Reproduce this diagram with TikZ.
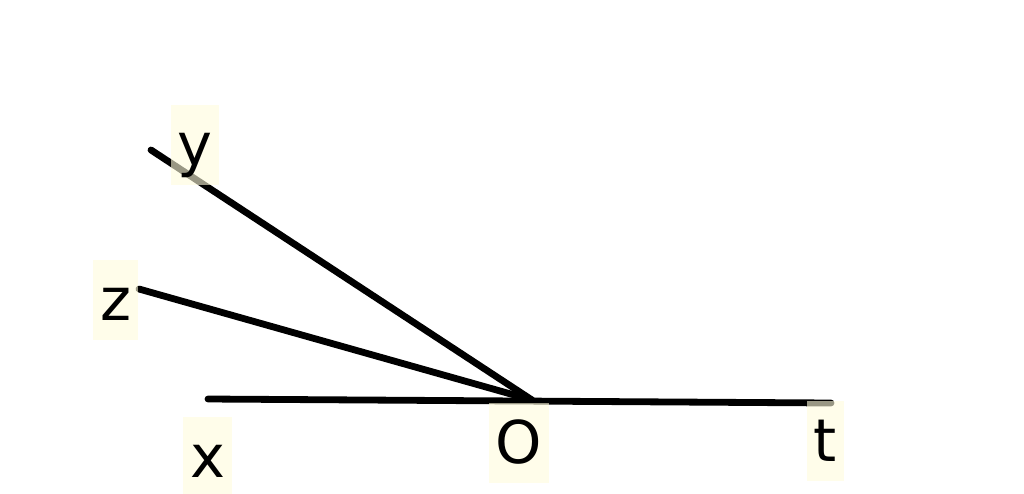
\documentclass[tikz,border=0pt]{standalone}
\usepackage{fontspec}
\setmainfont{DejaVu Sans}
\definecolor{labelbg}{RGB}{255,252,220}
\tikzset{
  ray/.style={line width=6.8pt, line cap=round, black},
  lbl/.style={fill=labelbg, fill opacity=0.6, text opacity=1, inner xsep=7pt, inner ysep=0pt,
              text height=60pt, text depth=20pt, font=\fontsize{59}{60}\selectfont}
}
\begin{document}
\begin{tikzpicture}[x=1pt,y=-1pt]
  \useasboundingbox (0,0) rectangle (1024,493);
  \coordinate (pY) at (151,150);
  \coordinate (pZ) at (139,289);
  \coordinate (pX) at (208,399);
  \coordinate (pO) at (532,400);
  \coordinate (pT) at (831,403);
  \draw[ray] (pX) -- (pT);
  \draw[ray] (pY) -- (pO);
  \draw[ray] (pZ) -- (pO);
  \node[lbl] (ly) at (195,145) {y};
  \node[lbl] (lz) at (115.5,300) {z};
  \node[lbl] (lx) at (207.5,457) {x};
  \node[lbl] (lo) at (519,443) {O};
  \node[lbl] (lt) at (825.5,441) {t};
\end{tikzpicture}
\end{document}
